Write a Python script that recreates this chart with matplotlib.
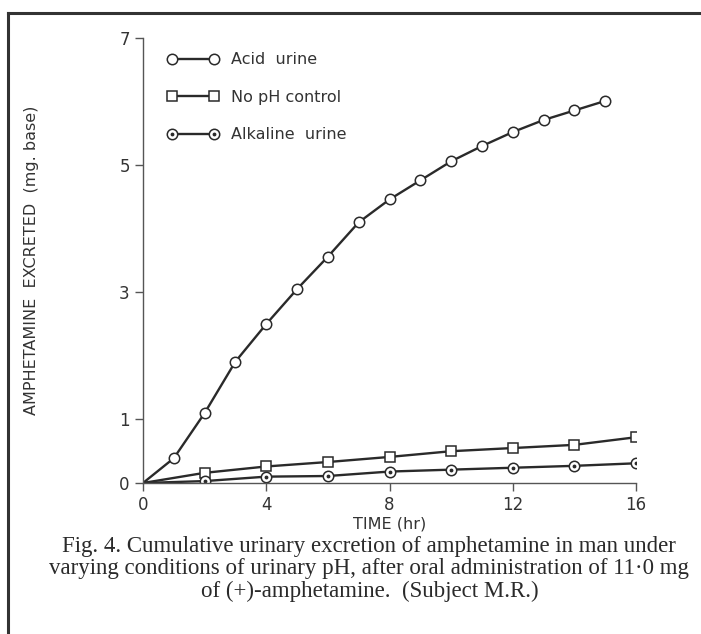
import matplotlib
matplotlib.use('Agg')
import matplotlib.pyplot as plt
from matplotlib.lines import Line2D
from matplotlib.legend_handler import HandlerTuple

# data (hours, mg base)
acid_t = [0, 1, 2, 3, 4, 5, 6, 7, 8, 9, 10, 11, 12, 13, 14, 15]
acid_y = [0, 0.39, 1.10, 1.91, 2.50, 3.05, 3.56, 4.10, 4.46, 4.76, 5.06, 5.30, 5.52, 5.71, 5.86, 6.01]

noph_t = [0, 2, 4, 6, 8, 10, 12, 14, 16]
noph_y = [0, 0.16, 0.26, 0.33, 0.41, 0.50, 0.55, 0.60, 0.72]

alk_t = [0, 2, 4, 6, 8, 10, 12, 14, 16]
alk_y = [0, 0.03, 0.10, 0.11, 0.18, 0.21, 0.24, 0.27, 0.31]

x_ticks = [0, 4, 8, 12, 16]
y_ticks = [0, 1, 3, 5, 7]

ink = '#2a2a2a'
sans = 'DejaVu Sans'

fig = plt.figure(figsize=(7.01, 6.34), dpi=100)
ax = fig.add_axes([143 / 701, 1 - 483 / 634, (636 - 143) / 701, (483 - 38) / 634])

mk = dict(markersize=7.5, markerfacecolor='white', markeredgecolor=ink, markeredgewidth=1.1)

# line through origin, markers only on measured points
ax.plot(acid_t, acid_y, color=ink, lw=1.7, marker='o', markevery=list(range(1, len(acid_t))), **mk)
ax.plot(noph_t, noph_y, color=ink, lw=1.7, marker='s', markevery=list(range(1, len(noph_t))), **mk)
ax.plot(alk_t, alk_y, color=ink, lw=1.7, marker='o', markevery=list(range(1, len(alk_t))), **mk)
ax.plot(alk_t[1:], alk_y[1:], ls='none', marker='.', color=ink, markersize=3.5)

ax.set_xlim(0, 16)
ax.set_ylim(0, 7)
ax.set_xticks(x_ticks)
ax.set_yticks(y_ticks)
ax.spines['top'].set_visible(False)
ax.spines['right'].set_visible(False)
for s in ['left', 'bottom']:
    ax.spines[s].set_color('#555555')
    ax.spines[s].set_linewidth(1.0)
ax.tick_params(direction='out', length=6, width=1.0, color='#555555',
               labelsize=12, labelcolor='#333333')
for lab in ax.get_xticklabels() + ax.get_yticklabels():
    lab.set_fontfamily(sans)

ax.set_xlabel('TIME (hr)', fontsize=11.5, color='#333333', family=sans, labelpad=2)
ax.set_ylabel('AMPHETAMINE  EXCRETED  (mg. base)', fontsize=11.5, color='#333333',
              family=sans, labelpad=58)

# legend handles: line with marker at both ends
h_acid = Line2D([], [], color=ink, lw=1.7, marker='o', **mk)
h_noph = Line2D([], [], color=ink, lw=1.7, marker='s', **mk)
h_alk = Line2D([], [], color=ink, lw=1.7, marker='o', **mk)
h_dot = Line2D([], [], ls='none', marker='.', color=ink, markersize=3.5)
leg = ax.legend([h_acid, h_noph, (h_alk, h_dot)],
                ['Acid  urine', 'No pH control', 'Alkaline  urine'],
                handler_map={tuple: HandlerTuple(ndivide=1)},
                numpoints=2, loc='upper left', bbox_to_anchor=(0.02, 1.0),
                frameon=False, handlelength=3.2, handletextpad=0.8,
                labelspacing=1.4, prop={'family': sans, 'size': 11.5})
for t in leg.get_texts():
    t.set_color('#333333')

# caption
cap = ('Fig. 4. Cumulative urinary excretion of amphetamine in man under\n'
       'varying conditions of urinary pH, after oral administration of 11·0 mg\n'
       'of (+)-amphetamine.  (Subject M.R.)')
fig.text(0.527, 1 - 569 / 634, cap, ha='center', va='center', fontsize=16.5,
         family='Liberation Serif', color='#2a2a2a', linespacing=1.06)

# scan frame lines
fig.add_artist(Line2D([8 / 701, 1], [1 - 13 / 634, 1 - 13 / 634], color='#333333', lw=2.2))
fig.add_artist(Line2D([8 / 701, 8 / 701], [0, 1 - 13 / 634], color='#333333', lw=2.2))

fig.savefig('out.png', dpi=100)
